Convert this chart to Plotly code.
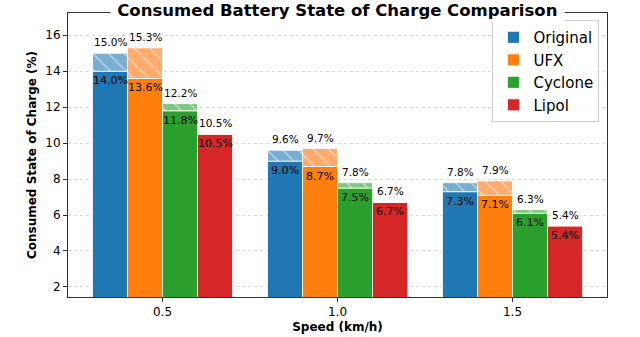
import plotly.graph_objects as go

speeds = [0.5, 1.0, 1.5]
series = ["Original", "UFX", "Cyclone", "Lipol"]
# consumed SoC (%) - lower bar value and upper (hatched) value
base_soc = {
    "Original": [14.0, 9.0, 7.3],
    "UFX": [13.6, 8.7, 7.1],
    "Cyclone": [11.8, 7.5, 6.1],
    "Lipol": [10.5, 6.7, 5.4],
}
top_soc = {
    "Original": [15.0, 9.6, 7.8],
    "UFX": [15.3, 9.7, 7.9],
    "Cyclone": [12.2, 7.8, 6.3],
    "Lipol": [10.5, 6.7, 5.4],
}

colors = ["#1f77b4", "#ff7f0e", "#2ca02c", "#d62728"]
light = ["rgb(121,173,210)", "rgb(255,171,110)", "rgb(128,198,128)", "rgb(230,125,126)"]
offsets = [-0.15, -0.05, 0.05, 0.15]
bw = 0.1
FONT = "DejaVu Sans"

fig = go.Figure()
annos = []
for i, name in enumerate(series):
    xs = [s + offsets[i] for s in speeds]
    lo = base_soc[name]
    hi = top_soc[name]
    fig.add_trace(go.Bar(x=xs, y=lo, width=bw, name=name,
                         marker=dict(color=colors[i], line=dict(color="white", width=0.8))))
    fig.add_trace(go.Bar(x=xs, y=[h - l for h, l in zip(hi, lo)], base=lo, width=bw,
                         showlegend=False,
                         marker=dict(color=light[i], line=dict(color="white", width=0.8),
                                     pattern=dict(shape="\\", fgcolor="white", size=11, solidity=0.12))))
    for x, l, h in zip(xs, lo, hi):
        annos.append(dict(x=x, y=h, text=f"{h:.1f}%", showarrow=False, yanchor="bottom",
                          yshift=3, font=dict(size=10.5, color="black", family=FONT)))
        annos.append(dict(x=x, y=l, text=f"{l:.1f}%", showarrow=False, yanchor="top",
                          yshift=-1, font=dict(size=11, color="black", family=FONT)))

annos.append(dict(x=0.5, y=1, xref="paper", yref="paper", yanchor="middle", yshift=3,
                  text="&nbsp;<b>Consumed Battery State of Charge Comparison</b>&nbsp;",
                  showarrow=False, bgcolor="white", borderpad=1,
                  font=dict(size=16.5, color="black", family=FONT)))

fig.update_layout(
    barmode="overlay",
    width=640, height=337,
    margin=dict(l=68, r=33, t=13, b=40, autoexpand=False),
    paper_bgcolor="white", plot_bgcolor="white",
    font=dict(family=FONT, color="black", size=12),
    annotations=annos,
    legend=dict(x=0.986, y=0.975, xanchor="right", yanchor="top",
                bgcolor="rgba(255,255,255,0.8)", bordercolor="#cccccc", borderwidth=1,
                font=dict(size=15, family=FONT), tracegroupgap=0),
)
fig.update_xaxes(range=[0.23, 1.77], tickvals=speeds, ticktext=["0.5", "1.0", "1.5"],
                 automargin=False,
                 showgrid=False, zeroline=False, showline=True, mirror=True,
                 linecolor="#333333", linewidth=1, ticks="outside", ticklen=4,
                 tickcolor="#333333", tickfont=dict(size=12),
                 title=dict(text="<b>Speed (km/h)</b>", font=dict(size=12), standoff=4))
fig.update_yaxes(range=[1.44, 17.24], dtick=2, tick0=2, automargin=False,
                 showgrid=True, gridcolor="#d9d9d9", griddash="dot", gridwidth=1,
                 zeroline=False, showline=True, mirror=True,
                 linecolor="#333333", linewidth=1, ticks="outside", ticklen=4,
                 tickcolor="#333333", tickfont=dict(size=12),
                 title=dict(text="<b>Consumed State of Charge (%)</b>", font=dict(size=12), standoff=6))

# drop the default 8px page margin so the figure fills the window
fig.write_html("out.html", config=dict(displayModeBar=False),
               post_script="document.body.style.margin='0';")
